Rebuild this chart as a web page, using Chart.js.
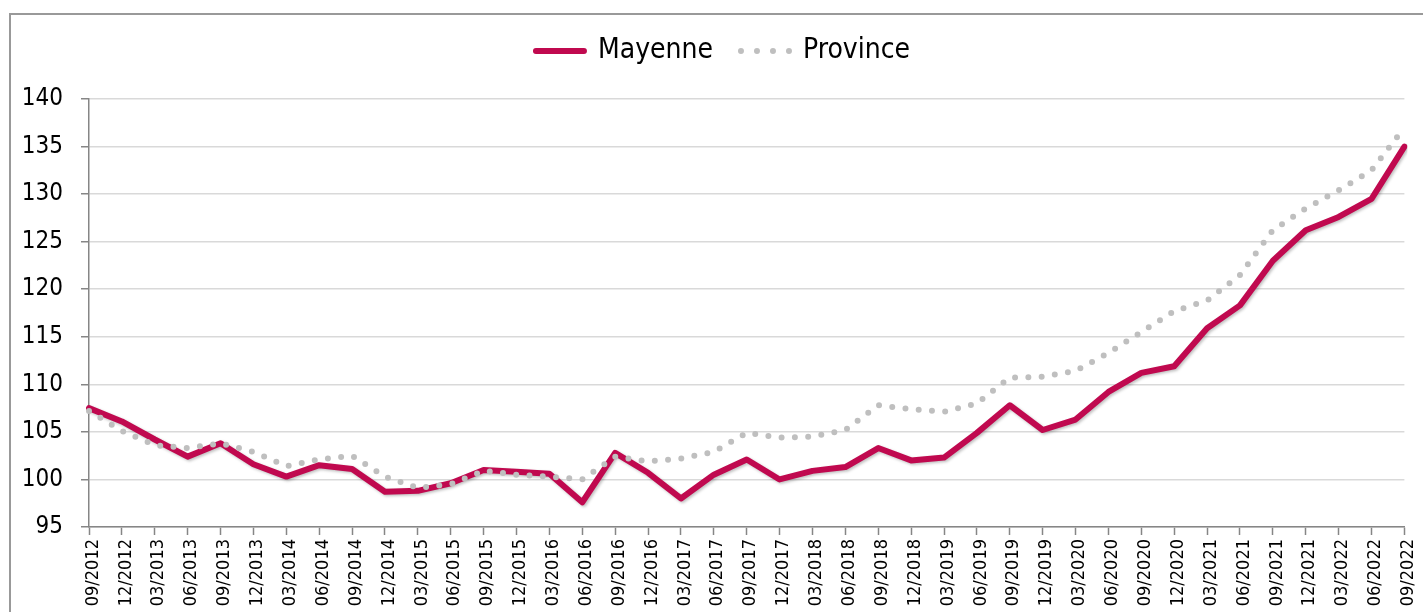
<!DOCTYPE html>
<html lang="fr">
<head>
    <meta charset="UTF-8">
    <title>Mayenne / Province</title>
    <script src="https://cdn.jsdelivr.net/npm/chart.js"></script>
    <style>
        html, body { margin: 0; padding: 0; background: #fff; overflow: hidden; }
        body { width: 1423px; height: 612px; position: relative; }
        .frame {
            position: absolute;
            left: 9px; top: 13px;
            width: 1500px; height: 700px;
            border-top: 2px solid #999;
            border-left: 2px solid #999;
        }
        .chart-box { position: absolute; left: 16px; top: 9px; width: 1414px; height: 603px; }
    </style>
</head>
<body>
    <div class="frame"></div>
    <div class="chart-box">
        <canvas id="priceChart" width="1414" height="603"></canvas>
    </div>

    <script>
        const quarters = [
            '09/2012', '12/2012', '03/2013', '06/2013', '09/2013', '12/2013',
            '03/2014', '06/2014', '09/2014', '12/2014', '03/2015', '06/2015',
            '09/2015', '12/2015', '03/2016', '06/2016', '09/2016', '12/2016',
            '03/2017', '06/2017', '09/2017', '12/2017', '03/2018', '06/2018',
            '09/2018', '12/2018', '03/2019', '06/2019', '09/2019', '12/2019',
            '03/2020', '06/2020', '09/2020', '12/2020', '03/2021', '06/2021',
            '09/2021', '12/2021', '03/2022', '06/2022', '09/2022'
        ];
        const mayenne = [
            107.5, 106.1, 104.2, 102.4, 103.8, 101.6, 100.3, 101.5, 101.1, 98.7,
            98.8, 99.6, 101.0, 100.8, 100.6, 97.6, 102.8, 100.7, 98.0, 100.5,
            102.1, 100.0, 100.9, 101.3, 103.3, 102.0, 102.3, 104.9, 107.8, 105.2,
            106.3, 109.2, 111.2, 111.9, 115.9, 118.3, 123.0, 126.2, 127.6, 129.5,
            135.0
        ];
        const province = [
            107.2, 105.1, 103.6, 103.3, 103.8, 102.9, 101.4, 102.1, 102.5, 100.3,
            99.1, 99.5, 100.9, 100.5, 100.3, 100.0, 102.4, 101.9, 102.2, 102.9,
            104.9, 104.4, 104.5, 105.2, 107.8, 107.4, 107.1, 108.0, 110.7, 110.8,
            111.4, 113.3, 115.5, 117.7, 118.8, 121.5, 126.2, 128.5, 130.4, 132.5,
            137.0
        ];

        const FONT = "'DejaVu Sans Condensed', 'DejaVu Sans', sans-serif";
        const AXIS_GREY = '#868686';

        // hauteur fixe de la légende pour caler la zone de tracé
        const legendHeight = {
            id: 'legendHeight',
            beforeInit(chart) {
                const fit = chart.legend.fit;
                chart.legend.fit = function () {
                    fit.call(this);
                    this.height = 90;
                };
            },
            // la légende est centrée sur tout le cadre, pas seulement sur la zone utile
            afterLayout(chart) {
                chart.legend.left += 10;
                chart.legend.right += 10;
            }
        };

        // ombre légère sous la courbe Mayenne
        const lineShadow = {
            id: 'lineShadow',
            beforeDatasetDraw(chart, args) {
                if (args.index !== 0) return;
                const ctx = chart.ctx;
                ctx.save();
                ctx.shadowColor = 'rgba(0,0,0,0.25)';
                ctx.shadowBlur = 3;
                ctx.shadowOffsetX = 1.5;
                ctx.shadowOffsetY = 1.5;
            },
            afterDatasetDraw(chart, args) {
                if (args.index === 0) chart.ctx.restore();
            }
        };

        new Chart(document.getElementById('priceChart'), {
            type: 'line',
            data: {
                labels: quarters,
                datasets: [
                    {
                        label: 'Mayenne',
                        data: mayenne,
                        borderColor: '#c0094f',
                        backgroundColor: '#c0094f',
                        borderWidth: 6,
                        borderCapStyle: 'round',
                        borderJoinStyle: 'round',
                        pointRadius: 0,
                        tension: 0,
                        order: 2
                    },
                    {
                        label: 'Province',
                        data: province,
                        borderColor: '#bfbfbf',
                        backgroundColor: 'transparent',
                        borderWidth: 6,
                        borderDash: [0, 13.3],
                        borderCapStyle: 'round',
                        pointRadius: 0,
                        tension: 0,
                        order: 1
                    }
                ]
            },
            options: {
                responsive: false,
                animation: false,
                layout: { padding: { left: 0, right: 20, top: 0, bottom: 0 } },
                plugins: {
                    tooltip: { enabled: false },
                    legend: {
                        display: true,
                        position: 'top',
                        labels: {
                            color: '#000',
                            font: { family: FONT, size: 28 },
                            boxWidth: 48,
                            boxHeight: 0,
                            padding: 28,
                            sort: (a, b) => a.datasetIndex - b.datasetIndex,
                            generateLabels(chart) {
                                const items = Chart.defaults.plugins.legend.labels.generateLabels(chart);
                                items.forEach(item => {
                                    item.lineCap = 'round';
                                    item.fillStyle = 'transparent';
                                    if (item.datasetIndex === 1) {
                                        item.lineDash = [0, 16];
                                    }
                                });
                                return items;
                            }
                        }
                    }
                },
                scales: {
                    x: {
                        offset: false,
                        border: { color: AXIS_GREY, width: 1.5 },
                        grid: {
                            drawOnChartArea: false,
                            drawTicks: true,
                            tickLength: 8,
                            tickColor: AXIS_GREY,
                            tickWidth: 1.5
                        },
                        ticks: {
                            color: '#000',
                            font: { family: FONT, size: 18 },
                            autoSkip: false,
                            maxRotation: 90,
                            minRotation: 90,
                            padding: 4,
                            labelOffset: 4
                        },
                        afterFit(scale) { scale.height = 85; }
                    },
                    y: {
                        min: 95,
                        max: 140,
                        border: { color: AXIS_GREY, width: 1.5 },
                        grid: {
                            color: '#d9d9d9',
                            lineWidth: 1.5,
                            tickLength: 8,
                            tickColor: AXIS_GREY,
                            tickWidth: 1.5
                        },
                        ticks: {
                            stepSize: 5,
                            color: '#000',
                            font: { family: FONT, size: 24 },
                            padding: 18
                        },
                        afterFit(scale) { scale.width = 73; }
                    }
                }
            },
            plugins: [legendHeight, lineShadow]
        });
    </script>
</body>
</html>
